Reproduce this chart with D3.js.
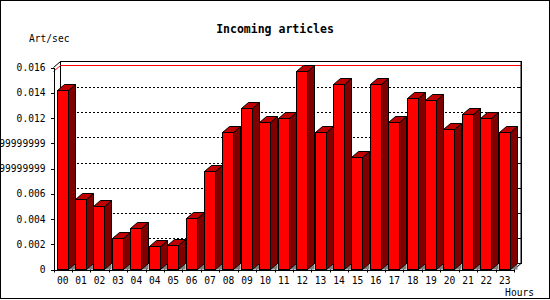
<!DOCTYPE html>
<html>
<head>
<meta charset="utf-8">
<script src="https://cdn.jsdelivr.net/npm/d3@7"></script>
<style>
  body { margin: 0; background: #fff; }
  svg { display: block; }
  text { font-family: "DejaVu Sans Mono", monospace; fill: #000; }
</style>
</head>
<body>
<svg id="chart" width="550" height="300"></svg>
<script>
"use strict";

const hourLabels = ["00", "01", "02", "03", "04", "04", "05", "06", "07", "08", "09", "10", "11",
    "12", "13", "14", "15", "16", "17", "18", "19", "20", "21", "22", "23"];
const artPerSec = [0.0142, 0.0056, 0.0050, 0.0025, 0.0033, 0.0019, 0.00195, 0.0041, 0.0078,
    0.0109, 0.0128, 0.0117, 0.0120, 0.0157, 0.0109, 0.0147, 0.0089, 0.0147, 0.0117,
    0.0136, 0.0134, 0.0111, 0.0123, 0.0120, 0.0109];
const yTicks = [0, 0.002, 0.004, 0.006, 0.008, 0.010, 0.012, 0.014, 0.016];
const yTickLabels = ["0", "0.002", "0.004", "0.006", "0.0079999999999999", "0.0099999999999999",
    "0.012", "0.014", "0.016"];

// plot box (front plane) and 3d depth
const plotLeft = 53.5, plotRight = 514, plotBottom = 269.5, plotTop = 67.5;
const dx = 7, dy = 6;

const svg = d3.select("#chart");

const xScale = d3.scaleBand()
    .domain(d3.range(hourLabels.length))
    .range([plotLeft, plotRight])
    .paddingInner(0).paddingOuter(0);
const yScale = d3.scaleLinear()
    .domain([0, 0.016])
    .range([plotBottom, plotTop]);

const line = d3.line();

// back wall
svg.append("rect")
    .attr("x", plotLeft + dx).attr("y", plotTop - dy)
    .attr("width", plotRight - plotLeft).attr("height", plotBottom - plotTop)
    .attr("fill", "#fff").attr("stroke", "#000")
    .attr("shape-rendering", "crispEdges");

// dashed grid on the back wall
svg.append("g").selectAll("line")
    .data(yTicks.slice(1, -1))
    .join("line")
    .attr("x1", plotLeft + dx).attr("x2", plotRight + dx)
    .attr("y1", d => Math.round(yScale(d)) - dy + 0.5)
    .attr("y2", d => Math.round(yScale(d)) - dy + 0.5)
    .attr("stroke", "#000")
    .attr("stroke-dasharray", "2,2")
    .attr("shape-rendering", "crispEdges");

// small ticks on back right edge
svg.append("g").selectAll("line")
    .data(yTicks.slice(1, -1))
    .join("line")
    .attr("x1", plotRight + dx - 4).attr("x2", plotRight + dx)
    .attr("y1", d => Math.round(yScale(d)) - dy + 0.5)
    .attr("y2", d => Math.round(yScale(d)) - dy + 0.5)
    .attr("stroke", "#000")
    .attr("shape-rendering", "crispEdges");

// max line (red) on back wall
const maxVal = d3.max(artPerSec);
const yMax = Math.round(yScale(maxVal)) + 0.5;
svg.append("path")
    .attr("d", line([[plotLeft, yMax], [plotLeft + dx, yMax - dy], [plotRight + dx, yMax - dy]]))
    .attr("fill", "none").attr("stroke", "#ff0000");

// left and bottom depth edges
svg.append("path")
    .attr("d", line([[plotLeft, plotTop], [plotLeft + dx, plotTop - dy]]))
    .attr("stroke", "#000").attr("fill", "none");
svg.append("path")
    .attr("d", line([[plotRight, plotBottom], [plotRight + dx, plotBottom - dy], [plotRight + dx, plotTop - dy]]))
    .attr("stroke", "#000").attr("fill", "none");

// bars
const bars = svg.append("g");
const bw = xScale.bandwidth();
artPerSec.forEach(function(v, i) {
    let xf = Math.round(xScale(i) + bw * 0.17) + 0.5;
    let xr = xf + Math.round(bw * 0.6);
    let yt = Math.round(yScale(v)) + 0.5;
    let y0 = plotBottom;
    let g = bars.append("g").attr("stroke", "#000").attr("stroke-linejoin", "miter");
    g.append("path")
        .attr("d", line([[xr, y0], [xr + dx, y0 - dy], [xr + dx, y0]]) + "Z")
        .attr("fill", "#808080").attr("stroke", "none");
    g.append("path")
        .attr("d", line([[xr, yt], [xr + dx, yt - dy], [xr + dx, y0 - dy], [xr, y0]]) + "Z")
        .attr("fill", "#800000");
    g.append("path")
        .attr("d", line([[xf, yt], [xf + dx, yt - dy], [xr + dx, yt - dy], [xr, yt]]) + "Z")
        .attr("fill", "#c00000");
    g.append("rect")
        .attr("x", xf).attr("y", yt)
        .attr("width", xr - xf).attr("height", y0 - yt)
        .attr("fill", "#ff0000");
});

// y axis
const yAxis = d3.axisLeft(yScale)
    .tickValues(yTicks)
    .tickFormat((d, i) => yTickLabels[i])
    .tickSize(3).tickSizeOuter(0).tickPadding(5);
const gy = svg.append("g").attr("transform", `translate(${plotLeft},0)`).call(yAxis);
gy.selectAll("text").style("font-family", "'DejaVu Sans Mono', monospace").style("font-size", "9.6px");
gy.selectAll("line, path").attr("stroke", "#000").attr("shape-rendering", "crispEdges");

// x axis: labels in band centres, ticks on band edges
const xAxis = d3.axisBottom(xScale)
    .tickFormat(i => hourLabels[i])
    .tickSize(0).tickSizeOuter(0).tickPadding(8);
const gx = svg.append("g").attr("transform", `translate(0,${plotBottom})`).call(xAxis);
gx.selectAll("text").style("font-family", "'DejaVu Sans Mono', monospace").style("font-size", "9.6px");
gx.select(".domain").attr("stroke", "#000").attr("shape-rendering", "crispEdges");
svg.append("g").selectAll("line")
    .data(d3.range(hourLabels.length + 1))
    .join("line")
    .attr("x1", i => Math.round(plotLeft + i * bw) + 0.5)
    .attr("x2", i => Math.round(plotLeft + i * bw) + 0.5)
    .attr("y1", plotBottom).attr("y2", plotBottom + 3)
    .attr("stroke", "#000");

// titles
svg.append("text")
    .attr("x", 275).attr("y", 33)
    .attr("text-anchor", "middle")
    .style("font-size", "11.5px").style("font-weight", "bold")
    .text("Incoming articles");
svg.append("text")
    .attr("x", 29).attr("y", 42)
    .style("font-size", "9.6px")
    .text("Art/sec");
svg.append("text")
    .attr("x", 534).attr("y", 296)
    .attr("text-anchor", "end")
    .style("font-size", "9.6px")
    .text("Hours");

// outer frame
svg.append("rect")
    .attr("x", 0.5).attr("y", 0.5).attr("width", 549).attr("height", 298)
    .attr("fill", "none").attr("stroke", "#000");
</script>
</body>
</html>
